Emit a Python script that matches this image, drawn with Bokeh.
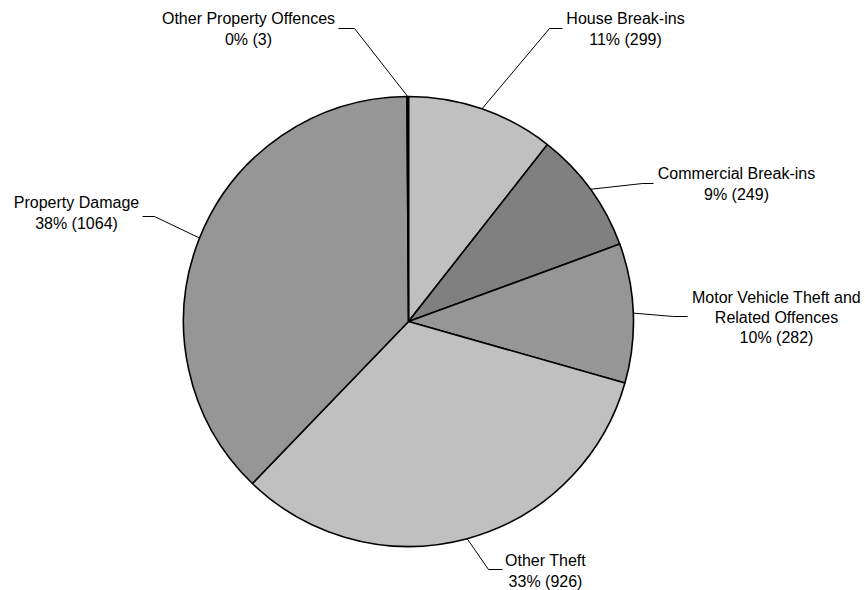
import math
from bokeh.plotting import figure
from bokeh.models import Range1d, ColumnDataSource
from bokeh.core.properties import value
from bokeh.embed import file_html
from bokeh.resources import INLINE

categories = ["House Break-ins", "Commercial Break-ins",
              "Motor Vehicle Theft and Related Offences", "Other Theft",
              "Property Damage", "Other Property Offences"]
counts = [299, 249, 282, 926, 1064, 3]
label_lines = [["House Break-ins"], ["Commercial Break-ins"],
               ["Motor Vehicle Theft and", "Related Offences"], ["Other Theft"],
               ["Property Damage"], ["Other Property Offences"]]
colors = ["#C0C0C0", "#808080", "#969696", "#C0C0C0", "#969696", "#808080"]

W, H = 865, 590
p = figure(width=W, height=H, output_backend="svg", toolbar_location=None,
           x_range=Range1d(0, W), y_range=Range1d(0, H), min_border=0)
p.axis.visible = False
p.grid.visible = False
p.outline_line_color = None
p.background_fill_color = "white"
p.border_fill_color = "white"

def px(X, Y):
    # picture pixel coordinates -> data coordinates
    return X, H - Y

cx, cy = px(408, 321)
R = 225
total = sum(counts)

starts, ends = [], []
c = 0
for v in counts:
    starts.append(math.pi / 2 - 2 * math.pi * c / total)
    c += v
    ends.append(math.pi / 2 - 2 * math.pi * c / total)

src = ColumnDataSource(dict(start=starts, end=ends, color=colors))
p.wedge(x=cx, y=cy, radius=R, start_angle="start", end_angle="end",
        direction="clock", fill_color="color", line_color="black",
        line_width=1.6, source=src)

# label text: center x, first line y, line spacing (picture pixels)
label_pos = [(625, 18, 21), (736, 173, 21), (776, 297, 20),
             (545, 560, 21), (76, 202, 21), (248, 18, 21)]
# leader line: elbow point and end point (picture pixels)
leaders = [((549, 28), (562, 28)), ((642, 183), (653, 183)),
           ((673, 316), (687, 316)), ((488, 569), (502, 569)),
           ((154, 216), (142, 216)), ((354, 28), (338, 28))]

for i, v in enumerate(counts):
    mid = (math.pi / 2) - math.pi * (2 * sum(counts[:i]) + v) / total
    ax, ay = cx + R * math.cos(mid), cy + R * math.sin(mid)
    (e1x, e1y), (e2x, e2y) = leaders[i]
    p1 = px(e1x, e1y)
    p2 = px(e2x, e2y)
    p.line([ax, p1[0], p2[0]], [ay, p1[1], p2[1]], line_color="black", line_width=1)
    pct = round(100 * v / total)
    lines = label_lines[i] + [f"{pct}% ({v})"]
    tx, ty, sp = label_pos[i]
    for k, t in enumerate(lines):
        lx, ly = px(tx, ty + sp * k)
        p.text(x=[lx], y=[ly], text=[t], text_align="center",
               text_baseline="middle", text_font=value("Liberation Sans"),
               text_font_size="16px", text_color="black")

open("out.html", "w").write(file_html(p, INLINE))
